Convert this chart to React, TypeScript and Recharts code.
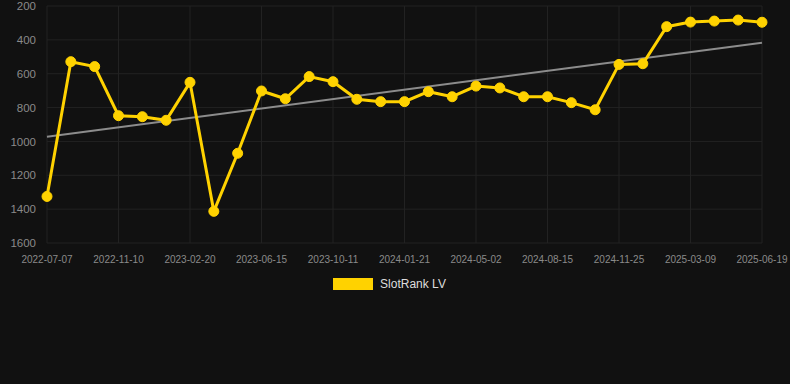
import { LineChart, Line, XAxis, YAxis, CartesianGrid, Legend } from 'recharts';

const dates = [
  '2022-07-07', '2022-08-18', '2022-09-29',
  '2022-11-10', '2022-12-14', '2023-01-17',
  '2023-02-20', '2023-03-30', '2023-05-08',
  '2023-06-15', '2023-07-24', '2023-08-31',
  '2023-10-11', '2023-11-14', '2023-12-18',
  '2024-01-21', '2024-02-24', '2024-03-29',
  '2024-05-02', '2024-06-06', '2024-07-11',
  '2024-08-15', '2024-09-18', '2024-10-22',
  '2024-11-25', '2024-12-30', '2025-02-02',
  '2025-03-09', '2025-04-12', '2025-05-16',
  '2025-06-19',
];

const rank = [
  1325, 529, 558,
  848, 854, 875,
  651, 1413, 1070,
  702, 748, 617,
  647, 751, 765,
  765, 706, 736,
  673, 684, 736,
  736, 771, 813,
  545, 541, 322,
  295, 289, 283,
  296,
];

// trend line: only the two ends are known, the rest is connected
const trendStart = 972;
const trendEnd = 417;

const yTicks = [200, 400, 600, 800, 1000, 1200, 1400, 1600];

const GOLD = '#FFD200';

const data = dates.map((d, i) => ({
  date: d,
  rank: rank[i],
  trend: i === 0 ? trendStart : i === dates.length - 1 ? trendEnd : null,
}));

function LegendBox() {
  return (
    <div style={{ display: 'flex', justifyContent: 'center', alignItems: 'center', height: 20, paddingLeft: 17 }}>
      <span style={{ display: 'inline-block', width: 40, height: 12, background: GOLD, marginRight: 7 }} />
      <span style={{ color: '#dddddd', fontSize: 12, fontFamily: 'Liberation Sans, Arial, sans-serif' }}>
        SlotRank LV
      </span>
    </div>
  );
}

export default function App() {
  return (
    <div style={{ position: 'absolute', left: 0, top: 0, width: 790, height: 384, background: '#111111' }}>
      <LineChart width={790} height={384} data={data} margin={{ top: 6, right: 28, bottom: 90, left: 0 }}>
        <CartesianGrid stroke="#222222" strokeWidth={1} />
        <XAxis
          dataKey="date"
          interval={2}
          height={31}
          tickLine={false}
          axisLine={false}
          tick={{ fill: '#8a8a8a', fontSize: 10, fontFamily: 'Liberation Sans, Arial, sans-serif' }}
          tickMargin={7}
        />
        <YAxis
          reversed
          domain={[200, 1600]}
          ticks={yTicks}
          width={47}
          tickLine={false}
          axisLine={false}
          tickSize={8}
          tickMargin={3}
          tick={{ fill: '#8a8a8a', fontSize: 11.5, fontFamily: 'Liberation Sans, Arial, sans-serif' }}
        />
        <Legend verticalAlign="bottom" height={20} content={() => <LegendBox />} />
        <Line
          dataKey="trend"
          stroke="#8c8c8c"
          strokeWidth={2}
          dot={false}
          connectNulls
          isAnimationActive={false}
          legendType="none"
        />
        <Line
          dataKey="rank"
          stroke={GOLD}
          strokeWidth={3}
          dot={{ r: 5, fill: GOLD, stroke: GOLD, strokeWidth: 1 }}
          activeDot={false}
          isAnimationActive={false}
        />
      </LineChart>
    </div>
  );
}
